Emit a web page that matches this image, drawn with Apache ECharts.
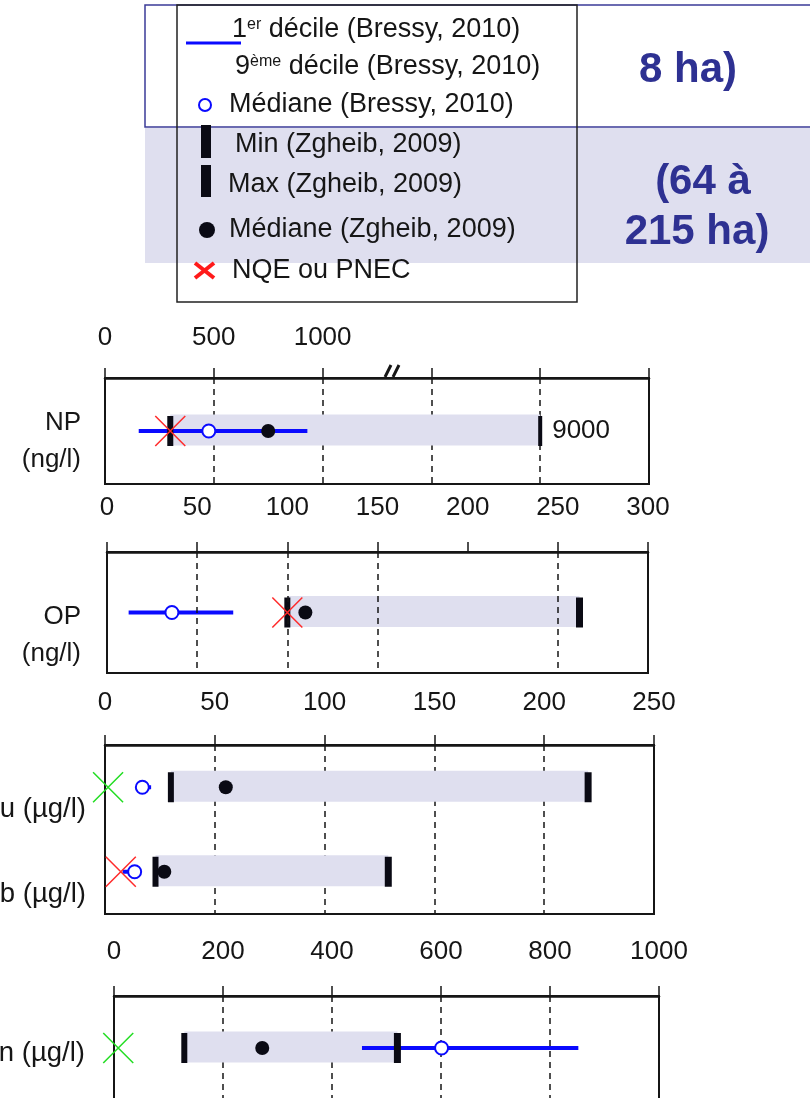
<!DOCTYPE html>
<html>
<head>
<meta charset="utf-8">
<script src="https://cdn.jsdelivr.net/npm/echarts@6/dist/echarts.min.js"></script>
<style>
html, body { margin: 0; padding: 0; background: #fff; }
#main { width: 810px; height: 1098px; }
</style>
</head>
<body>
<div id="main"></div>
<script>
// valeurs
var substances = ['NP', 'OP', 'Cu', 'Pb', 'Zn'];
var units = ['ng/l', 'ng/l', 'µg/l', 'µg/l', 'µg/l'];
var bressyD1 = [155, 12, 15, 8, 455];
var bressyD9 = [930, 70, 21, 14, 852];
var bressyMed = [477, 36, 17, 13.5, 601];
var zgheibMin = [300, 100, 30, 23, 129];
var zgheibMax = [9000, 262, 220, 129, 520];
var zgheibMed = [750, 110, 55, 27, 272];
var nqe = [300, 100, 1.4, 7.2, 7.8];

// panneaux : substances par panneau, échelles
var panelRows = [['NP'], ['OP'], ['Cu', 'Pb'], ['Zn']];
var axisMax = [2500, 300, 250, 1000];
var axisStep = [500, 50, 50, 200];
var npTopTicks = [0, 500, 1000];
var opDashed = [50, 100, 150, 250];

var FONT = 'Liberation Sans, Arial, sans-serif';
var INK = '#161616';

// axe coupé pour NP : au-delà de 1300 on comprime jusqu'à 9000
function npPos(v) {
  if (v <= 1300) return v;
  return 1300 + (v - 1300) * (2000 - 1300) / (9000 - 1300);
}
function panelOf(name) {
  for (var p = 0; p < panelRows.length; p++) {
    if (panelRows[p].indexOf(name) >= 0) return p;
  }
}
function pos(i, v) {
  return substances[i] === 'NP' ? npPos(v) : v;
}

var grids = [
  { left: 105, width: 544, top: 378, height: 106 },
  { left: 107, width: 541, top: 552, height: 121 },
  { left: 105, width: 549, top: 745, height: 169 },
  { left: 114, width: 545, top: 996, height: 104 }
];
var labelMargin = [27, 31, 29, 31];
var yLabelMargin = [24, 26, 19, 29];
// hauteur de la ligne vide qui décale les libellés vers le bas
var yLabelShift = [21, 46, 45, 10];

var gridOpt = [], xAxes = [], yAxes = [], series = [];

grids.forEach(function (g, p) {
  gridOpt.push({
    left: g.left, width: g.width, top: g.top, height: g.height,
    containLabel: false, outerBoundsMode: 'none',
    show: true, borderColor: INK, borderWidth: 2, backgroundColor: 'transparent'
  });
  xAxes.push({
    gridIndex: p, type: 'value', position: 'top',
    min: 0, max: axisMax[p], interval: axisStep[p],
    axisLine: { show: true, onZero: false, lineStyle: { color: INK, width: 2.5 } },
    axisTick: { show: true, inside: false, length: 10, lineStyle: { color: INK, width: 1.5 } },
    axisLabel: {
      show: true, margin: labelMargin[p], fontSize: 26, color: INK, fontFamily: FONT,
      showMinLabel: true, showMaxLabel: true,
      formatter: function (v) {
        if (p === 0) return npTopTicks.indexOf(v) >= 0 ? String(v) : '';
        return String(v);
      }
    },
    splitLine: { show: p !== 1, lineStyle: { type: [6, 5], color: INK, width: 1.5 } }
  });
  yAxes.push({
    gridIndex: p, type: 'category', data: panelRows[p], inverse: true,
    axisLine: { show: false }, axisTick: { show: false }, splitLine: { show: false },
    axisLabel: {
      show: true, color: INK, align: 'right', margin: yLabelMargin[p],
      formatter: function (name) {
        var i = substances.indexOf(name);
        return p < 2 ? '{gap| }\n{t|' + name + '}\n{t|(' + units[i] + ')}'
                     : '{gap| }\n{t|' + name + ' (' + units[i] + ')}';
      },
      rich: {
        gap: { fontSize: 8, lineHeight: yLabelShift[p] },
        t: { fontSize: p < 2 ? 26 : 27.5, fontFamily: FONT, color: INK, lineHeight: 37, align: 'right' }
      }
    }
  });
});

function rowsOf(p) {
  var out = [];
  substances.forEach(function (s, i) {
    if (panelOf(s) === p) out.push(i);
  });
  return out;
}

function renderBand(params, api) {
  var a = api.coord([api.value(0), api.value(1)]);
  var b = api.coord([api.value(2), api.value(1)]);
  var h = 31;
  return {
    type: 'rect',
    shape: { x: a[0], y: a[1] - h / 2 - 1, width: b[0] - a[0], height: h },
    style: { fill: '#dfdfef' }
  };
}
function renderDecile(params, api) {
  var a = api.coord([api.value(0), api.value(1)]);
  var b = api.coord([api.value(2), api.value(1)]);
  return {
    type: 'line',
    shape: { x1: a[0], y1: a[1], x2: b[0], y2: b[1] },
    style: { stroke: '#0a0aff', lineWidth: 4 }
  };
}

for (var p = 0; p < 4; p++) {
  var rows = rowsOf(p);
  var bandData = [], decData = [], minData = [], maxData = [], bmData = [], zmData = [], xRed = [], xGreen = [];
  rows.forEach(function (i) {
    var r = panelRows[p].indexOf(substances[i]);
    bandData.push([pos(i, zgheibMin[i]), r, pos(i, zgheibMax[i])]);
    decData.push([pos(i, bressyD1[i]), r, pos(i, bressyD9[i])]);
    minData.push([pos(i, zgheibMin[i]), r]);
    maxData.push([pos(i, zgheibMax[i]), r, zgheibMax[i]]);
    bmData.push([pos(i, bressyMed[i]), r]);
    zmData.push([pos(i, zgheibMed[i]), r]);
    if (substances[i] === 'Cu' || substances[i] === 'Zn') xGreen.push([pos(i, nqe[i]), r]);
    else xRed.push([pos(i, nqe[i]), r]);
  });
  var ax = { xAxisIndex: p, yAxisIndex: p };
  series.push(Object.assign({ type: 'custom', name: 'band' + p, renderItem: renderBand, data: bandData, z: 1, silent: true,
    markLine: p === 1 ? {
      silent: true, symbol: 'none', label: { show: false },
      lineStyle: { type: [6, 5], color: INK, width: 1.5 },
      data: opDashed.map(function (v) { return { xAxis: v }; })
    } : undefined }, ax));
  series.push(Object.assign({ type: 'custom', name: 'decile' + p, renderItem: renderDecile, data: decData, z: 2, silent: true }, ax));
  series.push(Object.assign({ type: 'scatter', name: 'min' + p, symbol: 'rect', symbolSize: [6, 30], data: minData, z: 3,
    itemStyle: { color: '#0a0a14', opacity: 1 } }, ax));
  series.push(Object.assign({ type: 'scatter', name: 'max' + p, symbol: 'rect', symbolSize: p === 0 ? [4, 30] : [7, 30], data: maxData, z: 3,
    itemStyle: { color: '#0a0a14', opacity: 1 },
    label: { show: p === 0, position: 'right', distance: 10, fontSize: 26, color: INK, opacity: 1, fontFamily: FONT,
      formatter: function (d) { return String(d.value[2]); } } }, ax));
  series.push(Object.assign({ type: 'scatter', name: 'medB' + p, symbol: 'circle', symbolSize: 13, data: bmData, z: 4,
    itemStyle: { color: '#fff', borderColor: '#0a0aff', borderWidth: 2, opacity: 1 } }, ax));
  series.push(Object.assign({ type: 'scatter', name: 'medZ' + p, symbol: 'circle', symbolSize: 14, data: zmData, z: 4,
    itemStyle: { color: '#0a0a14', opacity: 1 } }, ax));
  series.push(Object.assign({ type: 'scatter', name: 'nqeR' + p, symbol: 'path://M0,0L30,30M30,0L0,30', symbolSize: [30, 30], data: xRed, z: 5,
    itemStyle: { color: 'none', borderColor: '#ff2a2a', borderWidth: 1.5, opacity: 1 } }, ax));
  series.push(Object.assign({ type: 'scatter', name: 'nqeG' + p, symbol: 'path://M0,0L30,30M30,0L0,30', symbolSize: [30, 30], data: xGreen, z: 5,
    itemStyle: { color: 'none', borderColor: '#22dd22', borderWidth: 1.5, opacity: 1 } }, ax));
}

// légende et encadrés du haut
var BLUE_TXT = '#2e3192';
function legText(x, y, txt) {
  return { type: 'text', x: x, y: y, z: 20,
    style: { text: txt, fontSize: 27, fontFamily: FONT, fill: INK, verticalAlign: 'middle' } };
}
var graphics = [
  { type: 'rect', z: 10, shape: { x: 145, y: 5, width: 670, height: 122 },
    style: { fill: '#fff', stroke: '#3b3b98', lineWidth: 1.5 } },
  { type: 'rect', z: 10, shape: { x: 145, y: 128, width: 670, height: 135 },
    style: { fill: '#dfdfef' } },
  { type: 'rect', z: 15, shape: { x: 177, y: 5, width: 400, height: 297 },
    style: { fill: 'none', stroke: '#222', lineWidth: 1.5 } },
  { type: 'line', z: 20, shape: { x1: 186, y1: 43, x2: 241, y2: 43 },
    style: { stroke: '#0a0aff', lineWidth: 3 } },
  { type: 'text', x: 232, y: 30, z: 20,
    style: { text: '{b|1}{s|er}{b| décile (Bressy, 2010)}', verticalAlign: 'middle',
      rich: { b: { fontSize: 27, fontFamily: FONT, fill: INK }, s: { fontSize: 16, fontFamily: FONT, fill: INK, verticalAlign: 'top' } } } },
  { type: 'text', x: 235, y: 67, z: 20,
    style: { text: '{b|9}{s|ème}{b| décile (Bressy, 2010)}', verticalAlign: 'middle',
      rich: { b: { fontSize: 27, fontFamily: FONT, fill: INK }, s: { fontSize: 16, fontFamily: FONT, fill: INK, verticalAlign: 'top' } } } },
  { type: 'circle', z: 20, shape: { cx: 205, cy: 105, r: 6 },
    style: { fill: '#fff', stroke: '#0a0aff', lineWidth: 2 } },
  legText(229, 105, 'Médiane (Bressy, 2010)'),
  { type: 'rect', z: 20, shape: { x: 201, y: 125, width: 10, height: 33 }, style: { fill: '#0a0a14' } },
  legText(235, 145, 'Min (Zgheib, 2009)'),
  { type: 'rect', z: 20, shape: { x: 201, y: 165, width: 10, height: 32 }, style: { fill: '#0a0a14' } },
  legText(228, 185, 'Max (Zgheib, 2009)'),
  { type: 'circle', z: 20, shape: { cx: 207, cy: 230, r: 8 }, style: { fill: '#0a0a14' } },
  legText(229, 230, 'Médiane (Zgheib, 2009)'),
  { type: 'line', z: 20, shape: { x1: 195, y1: 263, x2: 214, y2: 278 }, style: { stroke: '#ff1a1a', lineWidth: 4 } },
  { type: 'line', z: 20, shape: { x1: 214, y1: 263, x2: 195, y2: 278 }, style: { stroke: '#ff1a1a', lineWidth: 4 } },
  legText(232, 271, 'NQE ou PNEC'),
  { type: 'text', x: 688, y: 70, z: 20,
    style: { text: '8 ha)', fontSize: 42, fontWeight: 'bold', fontFamily: FONT, fill: BLUE_TXT, align: 'center', verticalAlign: 'middle' } },
  { type: 'text', x: 703, y: 182, z: 20,
    style: { text: '(64 à', fontSize: 42, fontWeight: 'bold', fontFamily: FONT, fill: BLUE_TXT, align: 'center', verticalAlign: 'middle' } },
  { type: 'text', x: 697, y: 232, z: 20,
    style: { text: '215 ha)', fontSize: 42, fontWeight: 'bold', fontFamily: FONT, fill: BLUE_TXT, align: 'center', verticalAlign: 'middle' } },
  // marque de coupure de l'axe NP
  { type: 'line', z: 20, shape: { x1: 385, y1: 377, x2: 391, y2: 365 }, style: { stroke: INK, lineWidth: 3 } },
  { type: 'line', z: 20, shape: { x1: 393, y1: 377, x2: 399, y2: 365 }, style: { stroke: INK, lineWidth: 3 } }
];

var myChart = echarts.init(document.getElementById('main'), null, { renderer: 'canvas' });
myChart.setOption({
  animation: false,
  backgroundColor: '#fff',
  textStyle: { fontFamily: FONT },
  grid: gridOpt,
  xAxis: xAxes,
  yAxis: yAxes,
  series: series,
  graphic: graphics
});
</script>
</body>
</html>
